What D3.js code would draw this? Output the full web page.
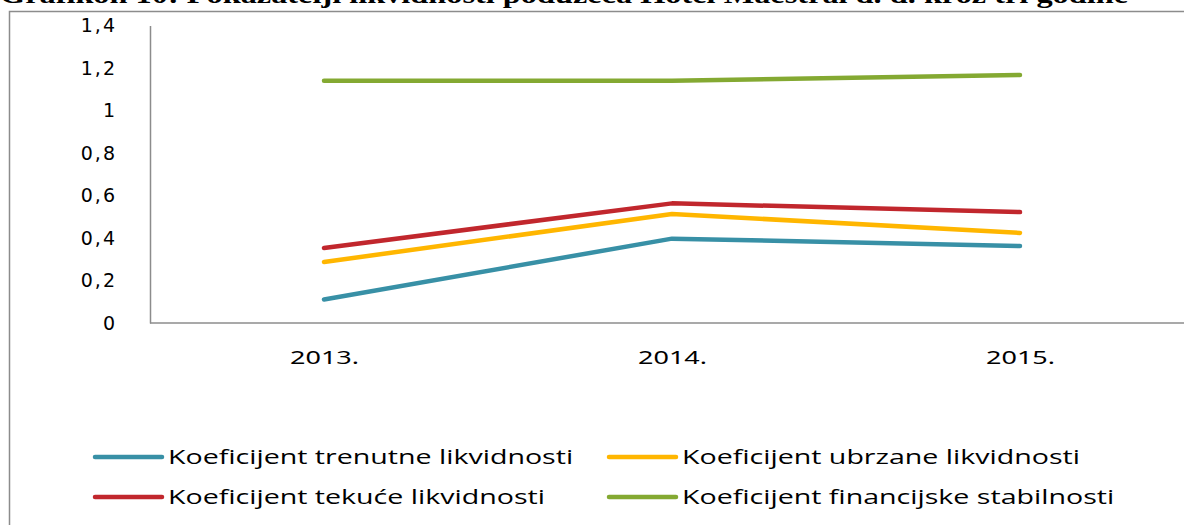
<!DOCTYPE html>
<html>
<head>
<meta charset="utf-8">
<script src="https://cdn.jsdelivr.net/npm/d3@7"></script>
<style>
  body { margin: 0; background: #fff; overflow: hidden; }
  svg { display: block; }
</style>
</head>
<body>
<svg id="chart" width="1184" height="525"></svg>
<script>
const years = ['2013.', '2014.', '2015.']
const trenutna = [0.111, 0.397, 0.362]
const ubrzana = [0.287, 0.513, 0.424]
const tekuca = [0.353, 0.563, 0.522]
const stabilnost = [1.14, 1.14, 1.167]
const yTicks = [0, 0.2, 0.4, 0.6, 0.8, 1, 1.2, 1.4]

const series = [
  { name: 'Koeficijent trenutne likvidnosti', values: trenutna, color: '#3890a6' },
  { name: 'Koeficijent ubrzane likvidnosti', values: ubrzana, color: '#ffb600' },
  { name: 'Koeficijent tekuće likvidnosti', values: tekuca, color: '#c1272d' },
  { name: 'Koeficijent financijske stabilnosti', values: stabilnost, color: '#84a932' }
]

const svg = d3.select('#chart')

// title, cut off at the top like in the source document
svg.append('text')
  .attr('x', 0).attr('y', 3)
  .attr('font-family', '"Liberation Serif", "Times New Roman", serif')
  .attr('font-weight', 'bold')
  .attr('font-size', 26)
  .attr('textLength', 1128)
  .attr('lengthAdjust', 'spacingAndGlyphs')
  .attr('fill', '#000')
  .text('Grafikon 10: Pokazatelji likvidnosti poduzeća Hotel Maestral d. d. kroz tri godine')

// outer chart frame
svg.append('rect')
  .attr('x', 9.5).attr('y', 11.5)
  .attr('width', 1200).attr('height', 600)
  .attr('fill', 'none')
  .attr('stroke', '#8c8c8c')
  .attr('stroke-width', 1.5)

const x = d3.scalePoint().domain(years).range([150, 1194]).padding(0.5)
const y = d3.scaleLinear().domain([0, 1.4]).range([323, 25.5])

// y axis
const yAxis = svg.append('g')
  .attr('transform', 'translate(150,0)')
  .call(d3.axisLeft(y).tickValues(yTicks).tickSize(0).tickPadding(33)
    .tickFormat(d => String(d).replace('.', ',')))
yAxis.select('.domain').attr('stroke', '#8c8c8c').attr('stroke-width', 1.5)
yAxis.selectAll('text')
  .attr('font-family', '"DejaVu Sans", Verdana, sans-serif')
  .attr('font-size', 19)
  .attr('letter-spacing', 2)
  .attr('fill', '#000')

// x axis (labels stretched sideways like the original picture)
const xAxis = svg.append('g')
  .attr('transform', 'translate(0,323)')
  .call(d3.axisBottom(x).tickSize(0).tickPadding(28))
xAxis.select('.domain').attr('d', 'M150,0H1194').attr('stroke', '#8c8c8c').attr('stroke-width', 1.5)
xAxis.selectAll('text')
  .attr('font-family', '"Noto Sans", sans-serif')
  .attr('font-size', 18)
  .attr('transform', 'scale(1.5,1)')
  .attr('fill', '#000')

const line = d3.line()
  .x((d, i) => x(years[i]))
  .y(d => y(d))

svg.append('g').selectAll('path')
  .data(series)
  .join('path')
  .attr('d', d => line(d.values))
  .attr('fill', 'none')
  .attr('stroke', d => d.color)
  .attr('stroke-width', 4.5)
  .attr('stroke-linecap', 'round')
  .attr('stroke-linejoin', 'round')

// legend, two columns
const legend = svg.append('g')
  .selectAll('g')
  .data(series)
  .join('g')
  .attr('transform', (d, i) => `translate(${i % 2 ? 609 : 95},${i < 2 ? 457 : 497})`)

legend.append('line')
  .attr('x1', 0).attr('x2', 67)
  .attr('stroke', d => d.color)
  .attr('stroke-width', 4.5)
  .attr('stroke-linecap', 'round')

legend.append('text')
  .attr('transform', 'translate(73,0) scale(1.43,1)')
  .attr('dy', '0.35em')
  .attr('font-family', '"Open Sans", sans-serif')
  .attr('font-size', 20)
  .attr('fill', '#000')
  .text(d => d.name)
</script>
</body>
</html>
